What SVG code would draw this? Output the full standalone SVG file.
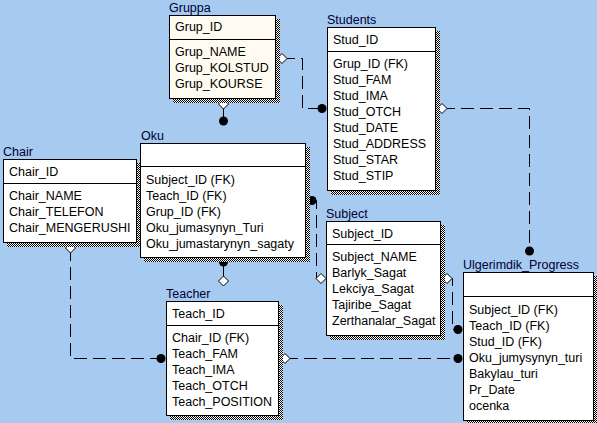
<svg xmlns="http://www.w3.org/2000/svg" width="597" height="423" viewBox="0 0 597 423">
<defs>
<pattern id="dith" width="2" height="2" patternUnits="userSpaceOnUse">
<rect width="2" height="2" fill="#ffffff"/>
<rect width="1" height="1" fill="#000000"/>
<rect x="1" y="1" width="1" height="1" fill="#000000"/>
</pattern>
</defs>
<style>
.bg{fill:#a6caf0}
.sh{fill:url(#dith)}
.box{fill:#ffffff;stroke:#000000;stroke-width:1}
.sel{fill:#fffbf0;stroke:#000000;stroke-width:1}
.sep{stroke:#000000;stroke-width:1}
.t{font-family:"Liberation Sans",Arial,sans-serif;font-size:12.5px;fill:#000000}
.lbl{font-family:"Liberation Sans",Arial,sans-serif;font-size:12.5px;fill:#000033}
.dash{fill:none;stroke:#000000;stroke-width:1;stroke-dasharray:13 6}
.solid{fill:none;stroke:#000000;stroke-width:1}
.dot{fill:#000000}
.dia{fill:#ffffff;stroke:#000000;stroke-width:1}
</style>
<rect class="bg" x="0" y="0" width="597" height="423"/>

<g id="connectors">
<!-- Gruppa -> Oku -->
<line class="solid" x1="223.5" y1="104" x2="223.5" y2="121"/>
<polygon class="dia" points="223.5,99 228.5,104 223.5,109 218.5,104"/>
<circle class="dot" cx="223.5" cy="121" r="4.5"/>
<!-- Gruppa -> Students -->
<path class="dash" d="M282,58.5 H302.5 V108.5 H322"/>
<polygon class="dia" points="277,58.5 282,53.5 287,58.5 282,63.5"/>
<circle class="dot" cx="322" cy="108.5" r="4.5"/>
<!-- Students -> Ulgerimdik -->
<path class="dash" d="M442,108.5 H529.5 V251"/>
<polygon class="dia" points="437,108.5 442,103.5 447,108.5 442,113.5"/>
<circle class="dot" cx="529.5" cy="251" r="4.5"/>
<!-- Oku -> Subject -->
<path class="dash" d="M312,200.5 H316.5 V278.5 H321"/>
<circle class="dot" cx="312" cy="200.5" r="4.5"/>
<polygon class="dia" points="316,278.5 321,273.5 326,278.5 321,283.5"/>
<!-- Subject -> Ulgerimdik -->
<path class="dash" d="M447,278.5 H452.5 V329.5 H458"/>
<polygon class="dia" points="442,278.5 447,273.5 452,278.5 447,283.5"/>
<circle class="dot" cx="458" cy="329.5" r="4.5"/>
<!-- Oku -> Teacher -->
<line class="solid" x1="223.5" y1="262" x2="223.5" y2="281"/>
<circle class="dot" cx="223.5" cy="262" r="4.5"/>
<polygon class="dia" points="223.5,276 228.5,281 223.5,286 218.5,281"/>
<!-- Chair -> Teacher -->
<path class="dash" d="M70.5,248 V358.5 H161"/>
<polygon class="dia" points="70.5,243 75.5,248 70.5,253 65.5,248"/>
<circle class="dot" cx="161" cy="358.5" r="4.5"/>
<!-- Teacher -> Ulgerimdik -->
<path class="dash" d="M285,358.5 H458"/>
<polygon class="dia" points="280,358.5 285,353.5 290,358.5 285,363.5"/>
<circle class="dot" cx="458" cy="358.5" r="4.5"/>
</g>

<g id="Gruppa">
<rect class="sh" x="173" y="19" width="107" height="84"/>
<rect class="sel" x="169.5" y="15.5" width="106" height="83"/>
<line class="sep" x1="169.5" y1="39.5" x2="275.5" y2="39.5"/>
<text class="lbl" x="169" y="12">Gruppa</text>
<text class="t" x="175" y="31">Grup_ID</text>
<text class="t" x="175" y="56">Grup_NAME</text>
<text class="t" x="175" y="72">Grup_KOLSTUD</text>
<text class="t" x="175" y="88">Grup_KOURSE</text>
</g>

<g id="Students">
<rect class="sh" x="331" y="31" width="109" height="164"/>
<rect class="box" x="327.5" y="27.5" width="108" height="163"/>
<line class="sep" x1="327.5" y1="51.5" x2="435.5" y2="51.5"/>
<text class="lbl" x="327" y="24">Students</text>
<text class="t" x="333" y="44">Stud_ID</text>
<text class="t" x="333" y="68">Grup_ID (FK)</text>
<text class="t" x="333" y="84">Stud_FAM</text>
<text class="t" x="333" y="100">Stud_IMA</text>
<text class="t" x="333" y="116">Stud_OTCH</text>
<text class="t" x="333" y="132">Stud_DATE</text>
<text class="t" x="333" y="148">Stud_ADDRESS</text>
<text class="t" x="333" y="164">Stud_STAR</text>
<text class="t" x="333" y="180">Stud_STIP</text>
</g>

<g id="Chair">
<rect class="sh" x="7" y="163" width="134" height="84"/>
<rect class="box" x="3.5" y="159.5" width="133" height="83"/>
<line class="sep" x1="3.5" y1="183.5" x2="136.5" y2="183.5"/>
<text class="lbl" x="3" y="156">Chair</text>
<text class="t" x="9" y="176">Chair_ID</text>
<text class="t" x="9" y="200">Chair_NAME</text>
<text class="t" x="9" y="216">Chair_TELEFON</text>
<text class="t" x="9" y="232">Chair_MENGERUSHI</text>
</g>

<g id="Oku">
<rect class="sh" x="144" y="147" width="166" height="115"/>
<rect class="box" x="140.5" y="143.5" width="165" height="114"/>
<line class="sep" x1="140.5" y1="166.5" x2="305.5" y2="166.5"/>
<text class="lbl" x="141" y="140">Oku</text>
<text class="t" x="146" y="184">Subject_ID (FK)</text>
<text class="t" x="146" y="200">Teach_ID (FK)</text>
<text class="t" x="146" y="216">Grup_ID (FK)</text>
<text class="t" x="146" y="232">Oku_jumasynyn_Turi</text>
<text class="t" x="146" y="248">Oku_jumastarynyn_sagaty</text>
</g>

<g id="Subject">
<rect class="sh" x="330" y="225" width="115" height="115"/>
<rect class="box" x="326.5" y="221.5" width="114" height="114"/>
<line class="sep" x1="326.5" y1="244.5" x2="440.5" y2="244.5"/>
<text class="lbl" x="326" y="218">Subject</text>
<text class="t" x="332" y="238">Subject_ID</text>
<text class="t" x="332" y="261">Subject_NAME</text>
<text class="t" x="332" y="277">Barlyk_Sagat</text>
<text class="t" x="332" y="293">Lekciya_Sagat</text>
<text class="t" x="332" y="309">Tajiribe_Sagat</text>
<text class="t" x="332" y="325">Zerthanalar_Sagat</text>
</g>

<g id="Ulgerimdik_Progress">
<rect class="sh" x="467" y="276" width="131" height="149"/>
<rect class="box" x="463.5" y="272.5" width="130" height="148"/>
<line class="sep" x1="463.5" y1="296.5" x2="593.5" y2="296.5"/>
<text class="lbl" x="463" y="269">Ulgerimdik_Progress</text>
<text class="t" x="469" y="314">Subject_ID (FK)</text>
<text class="t" x="469" y="330">Teach_ID (FK)</text>
<text class="t" x="469" y="346">Stud_ID (FK)</text>
<text class="t" x="469" y="362">Oku_jumysynyn_turi</text>
<text class="t" x="469" y="378">Bakylau_turi</text>
<text class="t" x="469" y="394">Pr_Date</text>
<text class="t" x="469" y="410">ocenka</text>
</g>

<g id="Teacher">
<rect class="sh" x="170" y="305" width="113" height="115"/>
<rect class="box" x="166.5" y="301.5" width="112" height="114"/>
<line class="sep" x1="166.5" y1="325.5" x2="278.5" y2="325.5"/>
<text class="lbl" x="166" y="298">Teacher</text>
<text class="t" x="172" y="318">Teach_ID</text>
<text class="t" x="172" y="342">Chair_ID (FK)</text>
<text class="t" x="172" y="358">Teach_FAM</text>
<text class="t" x="172" y="374">Teach_IMA</text>
<text class="t" x="172" y="390">Teach_OTCH</text>
<text class="t" x="172" y="406">Teach_POSITION</text>
</g>
</svg>
